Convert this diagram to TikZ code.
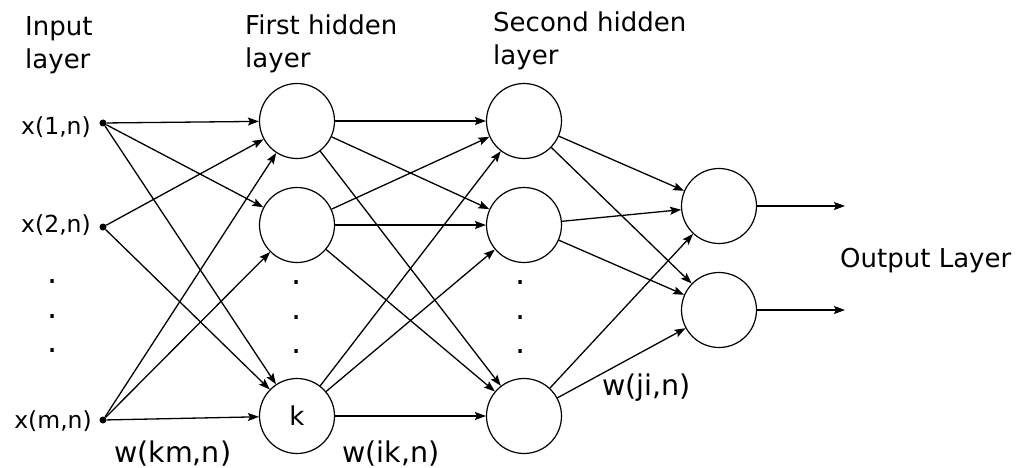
\documentclass[tikz,border=0pt]{standalone}
\usepackage{fontspec}
\setmainfont{DejaVu Sans}
\usetikzlibrary{arrows.meta}
\begin{document}
\begin{tikzpicture}[x=1pt,y=-1pt,
  neuron/.style={circle,draw,line width=1.2pt,minimum size=75pt,inner sep=0pt,font=\fontsize{26}{30}\selectfont},
  inpt/.style={circle,fill,inner sep=0pt,minimum size=7pt},
  conn/.style={line width=1.3pt,-{Stealth[length=11pt,width=8pt,inset=2pt]}},
  head/.style={font=\fontsize{26}{33}\selectfont,align=left,anchor=north west,inner sep=0pt},
  xlab/.style={font=\fontsize{23.5}{28}\selectfont,anchor=base east,inner sep=0pt},
  wlab/.style={font=\fontsize{28.5}{32}\selectfont,anchor=base west,inner sep=0pt},
  olab/.style={font=\fontsize{26}{32}\selectfont,anchor=base west,inner sep=0pt},
  vdot/.style={font=\fontsize{32}{36}\selectfont,inner sep=0pt},
]
\useasboundingbox (0,0) rectangle (1019,468);

% input dots
\node[inpt] (i1) at (103,123) {};
\node[inpt] (i2) at (103,227) {};
\node[inpt] (im) at (103,420) {};

% first hidden layer
\node[neuron] (h1) at (297,121) {};
\node[neuron] (h2) at (297,225) {};
\node[neuron] (hk) at (297,416) {k};

% second hidden layer
\node[neuron] (s1) at (524,121) {};
\node[neuron] (s2) at (524,225) {};
\node[neuron] (s3) at (524,416) {};

% output layer
\node[neuron] (o1) at (719,206) {};
\node[neuron] (o2) at (719,310) {};
\coordinate (e1) at (845,206);
\coordinate (e2) at (845,310);

% headings
\node[head] (tin) at (25,16) {Input\\layer};
\node[head] (tf) at (245,15) {First hidden\\layer};
\node[head] (ts) at (493,12) {Second hidden\\layer};
\node[olab] (tout) at (840,267) {Output Layer};

% input labels
\node[xlab] (lx1) at (91,134) {x(1,n)};
\node[xlab] (lx2) at (91,232) {x(2,n)};
\node[xlab] (lxm) at (92,428) {x(m,n)};

% weight labels
\node[wlab] (wkm) at (114,462) {w(km,n)};
\node[wlab] (wik) at (342,462) {w(ik,n)};
\node[wlab] (wji) at (602,395) {w(ji,n)};

% vertical dots
\node[vdot] (d1a) at (53,282) {.};
\node[vdot] (d1b) at (53,317) {.};
\node[vdot] (d1c) at (53,351) {.};
\node[vdot] (d2a) at (297,283) {.};
\node[vdot] (d2b) at (297,318) {.};
\node[vdot] (d2c) at (297,352) {.};
\node[vdot] (d3a) at (521,283) {.};
\node[vdot] (d3b) at (521,318) {.};
\node[vdot] (d3c) at (521,352) {.};

% connections
\foreach \a/\b in {i1/h1,i1/h2,i1/hk,i2/h1,i2/hk,im/h1,im/h2,im/hk}
  \draw[conn] (\a) -- (\b);
\foreach \a in {h1,h2,hk}
  \foreach \b in {s1,s2,s3}
    \draw[conn] (\a) -- (\b);
\foreach \a in {s1,s2,s3}
  \foreach \b in {o1,o2}
    \draw[conn] (\a) -- (\b);
\draw[conn] (o1) -- (e1);
\draw[conn] (o2) -- (e2);
\end{tikzpicture}
\end{document}
